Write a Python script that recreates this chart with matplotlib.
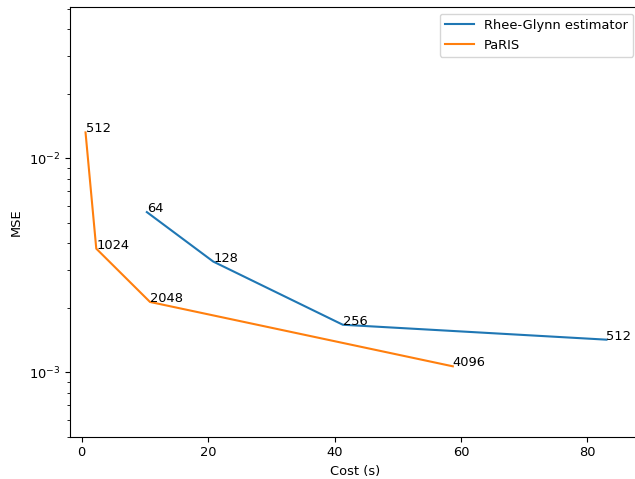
import matplotlib
matplotlib.use("Agg")
import matplotlib.pyplot as plt

# Rhee-Glynn estimator: number of particles, cost (s), MSE
rg_labels = ["64", "128", "256", "512"]
rg_cost = [10.3, 20.8, 41.3, 83.0]
rg_mse = [0.0056, 0.00329, 0.001667, 0.00142]

# PaRIS
paris_labels = ["512", "1024", "2048", "4096"]
paris_cost = [0.6, 2.3, 10.8, 58.7]
paris_mse = [0.0132, 0.00378, 0.00213, 0.001066]

plt.rcParams["font.size"] = 9.4

fig = plt.figure(figsize=(6.35, 4.79), dpi=100)
ax = fig.add_axes([0.1098, 0.0883, 0.898, 0.8965])

ax.plot(rg_cost, rg_mse, label="Rhee-Glynn estimator")
ax.plot(paris_cost, paris_mse, label="PaRIS")

for lab, x, y in zip(rg_labels, rg_cost, rg_mse):
    ax.annotate(lab, (x, y))
for lab, x, y in zip(paris_labels, paris_cost, paris_mse):
    ax.annotate(lab, (x, y))

ax.set_yscale("log")
ax.set_xlim(-1.9, 88.3)
ax.set_ylim(5.0e-4, 5.07e-2)
ax.set_xticks([0, 20, 40, 60, 80])
ax.set_xlabel("Cost (s)")
ax.set_ylabel("MSE")
ax.legend(loc="upper right", handlelength=2.2)

fig.savefig("out.png", dpi=100)
